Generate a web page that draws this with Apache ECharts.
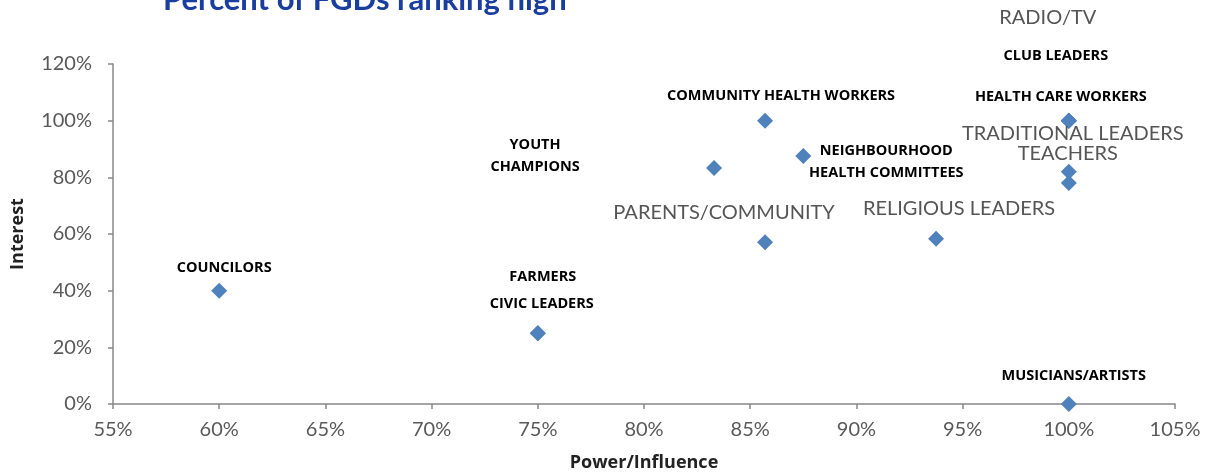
<!DOCTYPE html>
<html>
<head>
<meta charset="utf-8">
<script src="https://cdn.jsdelivr.net/npm/echarts@6/dist/echarts.min.js"></script>
<style>
html,body{margin:0;padding:0;background:#fff;}
#chart{width:1206px;height:473px;}
</style>
</head>
<body>
<div id="chart"></div>
<script>
// ---- data ----
var categories = ['RADIO/TV','CLUB LEADERS','HEALTH CARE WORKERS','TRADITIONAL LEADERS','TEACHERS',
  'COMMUNITY HEALTH WORKERS','YOUTH\nCHAMPIONS','NEIGHBOURHOOD\nHEALTH COMMITTEES','PARENTS/COMMUNITY',
  'RELIGIOUS LEADERS','COUNCILORS','FARMERS','CIVIC LEADERS','MUSICIANS/ARTISTS'];
var power    = [100, 100, 100, 100, 100, 85.7, 83.3, 87.5, 85.7, 93.75, 60, 75, 75, 100];
var interest = [100, 100, 100, 82, 78, 100, 83.3, 87.5, 57.1, 58.3, 40, 25, 25, 0];
var xTicks = [55,60,65,70,75,80,85,90,95,100,105];
var yTicks = [0,20,40,60,80,100,120];

// ---- label layout (style only) ----
var labelOffsets = [[-21,-103],[-13,-65],[-8,-24],[4,-38],[-1,-29],[16,-25],[-179,-12],[83,6],
  [-41,-30],[23,-30],[5,-23],[5,-56],[4,-29],[5,-28]];
var labelKind = ['big','bold','bold','big','big','bold','bold','bold','big','big','bold','bold','bold','bold'];

var styles = {
  bold: {fontFamily:'Open Sans', fontWeight:'bold', fontSize:14.5, color:'#000', lineHeight:22},
  big:  {fontFamily:'Lato', fontWeight:'normal', fontSize:20, color:'#555', lineHeight:20}
};

var data = categories.map(function(name, i){
  var s = styles[labelKind[i]];
  return {
    name: name,
    value: [power[i], interest[i]],
    label: {
      show: true, position: 'inside', offset: labelOffsets[i],
      formatter: '{b}', fontFamily: s.fontFamily, fontWeight: s.fontWeight,
      fontSize: s.fontSize, color: s.color, lineHeight: s.lineHeight, align: 'center'
    }
  };
});

var axisText = {fontFamily:'Lato', fontSize:20, color:'#595959'};
var chart = echarts.init(document.getElementById('chart'), null, {renderer:'canvas'});
chart.setOption({
  animation: false,
  backgroundColor: '#fff',
  title: {
    text: 'Percent of FGDs ranking high',
    left: 158, top: -21,
    textStyle: {fontFamily:'Lato', fontWeight:'bold', fontSize:31, color:'#1A3E9E'}
  },
  grid: {left:113, right:31, top:64, bottom:69, containLabel:false, outerBoundsMode:'none'},
  xAxis: {
    type: 'value', min: xTicks[0], max: xTicks[xTicks.length-1], interval: 5,
    name: 'Power/Influence', nameLocation: 'middle', nameGap: 50,
    nameTextStyle: {fontFamily:'Open Sans', fontWeight:'bold', fontSize:18, color:'#222'},
    axisLine: {show:true, lineStyle:{color:'#888', width:1.5}},
    axisTick: {show:true, length:5, lineStyle:{color:'#888', width:1.5}},
    axisLabel: Object.assign({formatter: function(v){return v+'%';}, margin:16}, axisText),
    splitLine: {show:false}
  },
  yAxis: {
    type: 'value', min: yTicks[0], max: yTicks[yTicks.length-1], interval: 20,
    name: 'Interest', nameLocation: 'middle', nameGap: 86, nameRotate: 90,
    nameTextStyle: {fontFamily:'Open Sans', fontWeight:'bold', fontSize:18, color:'#222'},
    axisLine: {show:true, lineStyle:{color:'#888', width:1.5}},
    axisTick: {show:true, length:5, lineStyle:{color:'#888', width:1.5}},
    axisLabel: Object.assign({formatter: function(v){return v+'%';}, margin:21}, axisText),
    splitLine: {show:false}
  },
  series: [{
    type: 'scatter',
    symbol: 'diamond',
    symbolSize: 16,
    itemStyle: {color:'#4F81BD', opacity:1},
    data: data,
    z: 3
  }]
});
</script>
</body>
</html>
